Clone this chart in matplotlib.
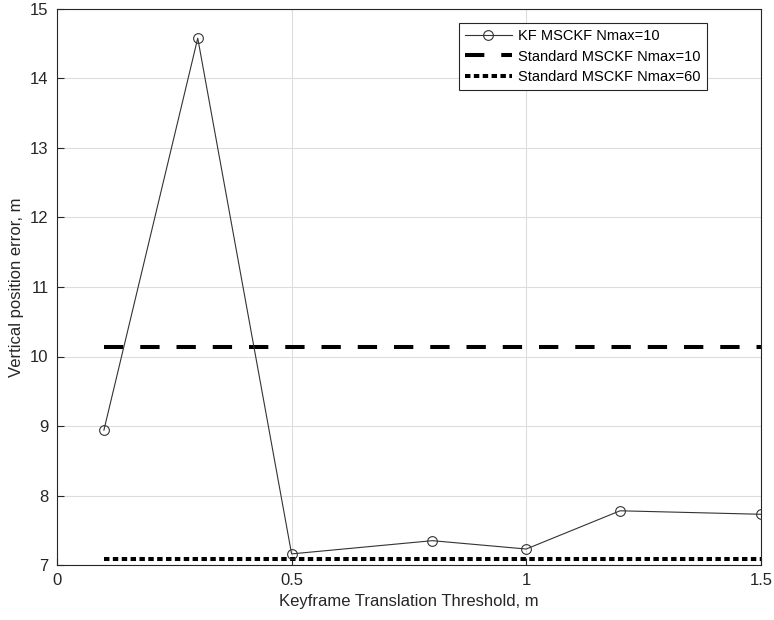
import matplotlib.pyplot as plt

plt.rcParams['font.family'] = ['Liberation Sans', 'DejaVu Sans']

# data
umbral = [0.1, 0.3, 0.5, 0.8, 1.0, 1.2, 1.5]
kf_mcskf = [8.94, 14.58, 7.16, 7.35, 7.23, 7.78, 7.73]
std_rango = [0.1, 1.5]
std_n10 = [10.14, 10.14]
std_n60 = [7.08, 7.08]

fig = plt.figure(figsize=(7.74, 6.2), dpi=100)
ax = fig.add_axes([0.0736, 0.0887, 0.9094, 0.8968])

ax.plot(umbral, kf_mcskf, color='#333333', linewidth=0.8, marker='o', markersize=7,
        markerfacecolor='none', markeredgecolor='#333333', markeredgewidth=0.8,
        label='KF MSCKF Nmax=10', zorder=3)
ax.plot(std_rango, std_n10, color='black', linewidth=2.9, linestyle=(0, (4.8, 4.2)),
        label='Standard MSCKF Nmax=10', zorder=2)
ax.plot(std_rango, std_n60, color='black', linewidth=2.9, linestyle=(0, (1.35, 0.85)),
        label='Standard MSCKF Nmax=60', zorder=2)

ax.set_xlim(0, 1.5)
ax.set_ylim(7, 15)
ax.set_xticks([0, 0.5, 1, 1.5])
ax.set_xticklabels(['0', '0.5', '1', '1.5'])
ax.set_yticks(range(7, 16))
ax.grid(True, color='#dddddd', linewidth=0.8)
ax.set_axisbelow(True)
ax.tick_params(direction='in', length=5, labelsize=12, colors='#262626', pad=6)
for s in ax.spines.values():
    s.set_color('#262626')
    s.set_linewidth(0.8)

ax.set_xlabel('Keyframe Translation Threshold, m', fontsize=12, color='#262626')
ax.set_ylabel('Vertical position error, m', fontsize=12, color='#262626')

leg = ax.legend(loc='upper right', bbox_to_anchor=(0.923, 0.975), borderaxespad=0,
                fontsize=10.5, handlelength=3.2, handletextpad=0.4, borderpad=0.45,
                labelspacing=0.42, fancybox=False, framealpha=1, edgecolor='#262626')
leg.get_frame().set_linewidth(0.8)

fig.savefig('out.png', dpi=100)
